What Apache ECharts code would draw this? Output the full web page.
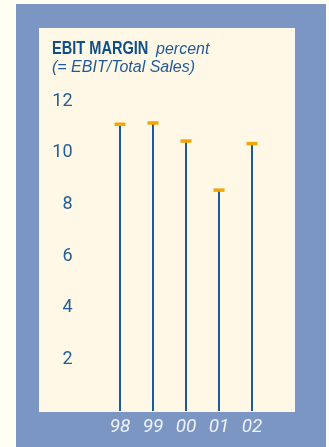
<!DOCTYPE html>
<html>
<head>
<meta charset="utf-8">
<script src="https://cdn.jsdelivr.net/npm/echarts@6/dist/echarts.min.js"></script>
<style>
  html, body { margin: 0; padding: 0; background: #FFFEF2; }
  #chart { width: 329px; height: 447px; }
</style>
</head>
<body>
<div id="chart"></div>
<script>
// EBIT margin by fiscal year, in percent
const years = ['98', '99', '00', '01', '02'];
const ebitMargin = [11.1, 11.15, 10.45, 8.55, 10.35];
const yTicks = [2, 4, 6, 8, 10, 12];

const BLUE = '#1D5A96';
const TEXT_BLUE = '#235E96';
const CAP = '#F2A600';

const chart = echarts.init(document.getElementById('chart'), null, { renderer: 'canvas' });

chart.setOption({
  backgroundColor: '#FFFEF2',
  animation: false,
  graphic: [
    { type: 'rect', z: -10, shape: { x: 16, y: 4, width: 310, height: 443 }, style: { fill: '#7B96C3' } },
    { type: 'rect', z: -9, shape: { x: 39, y: 28, width: 256, height: 384 }, style: { fill: '#FFF8E7' } },
    {
      // condensed bold heading
      type: 'text', x: 52, y: 40, scaleX: 0.81, z: 10,
      style: {
        text: 'EBIT MARGIN',
        fontFamily: '"Liberation Sans", sans-serif', fontWeight: 'bold', fontSize: 18, fill: '#0E4F8A'
      }
    },
    {
      type: 'text', x: 156, y: 42, z: 10,
      style: {
        text: 'percent',
        fontFamily: '"Liberation Sans", sans-serif', fontStyle: 'italic', fontSize: 16, fill: '#1E5A96'
      }
    },
    {
      type: 'text', x: 52, y: 60, z: 10,
      style: {
        text: '(= EBIT/Total Sales)',
        fontFamily: '"Liberation Sans", sans-serif', fontStyle: 'italic', fontSize: 16, fill: '#1E5A96'
      }
    }
  ],
  grid: { left: 103.5, top: 101, width: 165, height: 310 },
  xAxis: {
    type: 'category',
    data: years,
    axisLine: { show: false },
    axisTick: { show: false },
    axisLabel: {
      margin: 7,
      fontFamily: 'Roboto, sans-serif', fontStyle: 'italic', fontWeight: 400,
      fontSize: 19, color: '#EEF2FA'
    }
  },
  yAxis: {
    type: 'value',
    min: 0, max: 12, interval: 2,
    splitLine: { show: false },
    axisLine: { show: false },
    axisTick: { show: false },
    axisLabel: {
      margin: 31,
      fontFamily: 'Roboto, sans-serif', fontWeight: 400,
      fontSize: 18, color: TEXT_BLUE,
      formatter: v => (yTicks.indexOf(v) >= 0 ? String(v) : '')
    }
  },
  series: [
    {
      type: 'bar',
      data: ebitMargin,
      barWidth: 2,
      itemStyle: { color: BLUE },
      z: 2
    },
    {
      type: 'scatter',
      data: ebitMargin,
      symbol: 'rect',
      symbolSize: [11, 3.5],
      itemStyle: { color: CAP, opacity: 1 },
      z: 3
    }
  ]
});
</script>
</body>
</html>
